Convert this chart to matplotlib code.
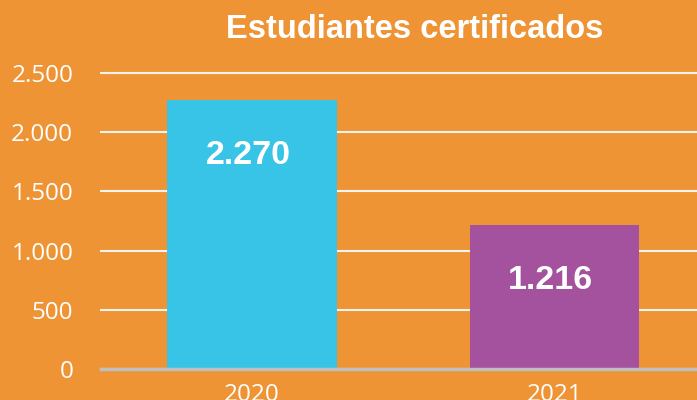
import matplotlib.pyplot as plt

# DATA
years = ["2020", "2021"]
students = [2270, 1216]
value_labels = ["2.270", "1.216"]
yticks = [0, 500, 1000, 1500, 2000, 2500]
ytick_labels = ["0", "500", "1.000", "1.500", "2.000", "2.500"]

bg = "#EE9434"
bar_colors = ["#38C4E6", "#A4529E"]

fig = plt.figure(figsize=(6.97, 4.0), dpi=100)
fig.patch.set_facecolor(bg)
ax = fig.add_axes([101 / 697, 31 / 400, 596 / 697, 296 / 400])
ax.set_facecolor(bg)

x = range(len(years))
ax.bar(x, students, width=0.56, color=bar_colors, zorder=3)
for i, (v, lab) in enumerate(zip(students, value_labels)):
    ax.annotate(lab, (i - 0.012, v), xytext=(0, -40), textcoords="offset points",
                ha="center", va="center", color="white", fontsize=24.5,
                fontweight="bold", family="Liberation Sans", zorder=4)

ax.set_xlim(-0.5, 1.472)
ax.set_ylim(0, 2500)
ax.set_yticks(yticks)
ax.set_yticklabels(ytick_labels)
ax.set_xticks(list(x))
ax.set_xticklabels(years)
ax.tick_params(axis="y", length=0, pad=20, labelsize=17.5, labelcolor="white")
ax.tick_params(axis="x", length=0, pad=10, labelsize=17.5, labelcolor="white")
for lab in ax.get_xticklabels() + ax.get_yticklabels():
    lab.set_family("Open Sans")

ax.grid(axis="y", color="#F7F3EE", linewidth=1.5, zorder=1, clip_on=False)
for side in ["top", "right", "left"]:
    ax.spines[side].set_visible(False)
ax.spines["bottom"].set_color("#BFBFBF")
ax.spines["bottom"].set_linewidth(2.5)
ax.spines["bottom"].set_zorder(5)

fig.text(415 / 697, 1 - 29 / 400, "Estudiantes certificados", ha="center",
         va="center", color="white", fontsize=23.5, fontweight="bold",
         family="Liberation Sans")

fig.savefig("out.png", dpi=100, facecolor=bg)
